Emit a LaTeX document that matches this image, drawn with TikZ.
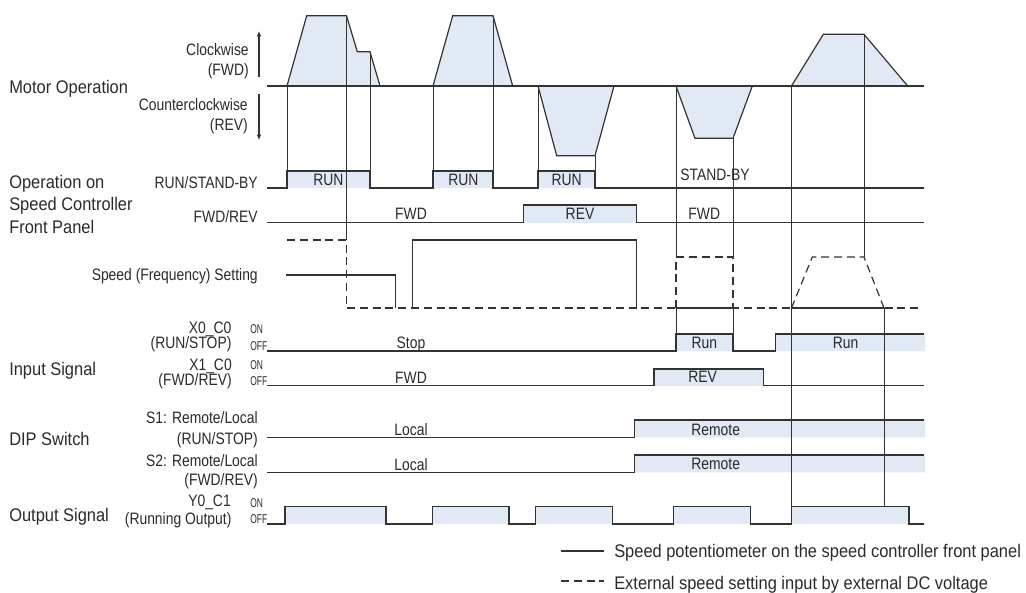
\documentclass[tikz,border=0pt]{standalone}
\usepackage{fontspec}
\setmainfont{Liberation Sans}[FakeStretch=0.9]
\newfontfamily\lbfont{Liberation Sans}[FakeStretch=0.84]
\newfontfamily\swfont{Liberation Sans}[FakeStretch=0.66]
\usetikzlibrary{arrows.meta}
\definecolor{ink}{HTML}{333333}
\definecolor{txt}{HTML}{2A2A2A}
\definecolor{blu}{HTML}{E1E9F5}
\tikzset{
  sig/.style={draw=ink,line width=.9pt},
  vl/.style={draw=ink,line width=.7pt},
  dsh/.style={draw=ink,line width=.9pt,dash pattern=on 6pt off 3.6pt},
  axs/.style={draw=ink,line width=2.2pt},
  prof/.style={fill=blu,draw=ink,line width=.9pt},
  ar/.style={-{Latex[length=4pt,width=3.6pt]},draw=ink,line width=.8pt},
  % text: group names, row names, on/off marks
  grp/.style={font=\fontsize{13.7}{16}\selectfont,text=txt,inner sep=0pt},
  lb/.style={font=\lbfont\fontsize{12.4}{14}\selectfont,text=txt,inner sep=0pt},
  sw/.style={font=\swfont\fontsize{9.6}{10}\selectfont,text=txt,inner sep=0pt},
}
\begin{document}
\begin{tikzpicture}[x=0.75pt,y=-0.75pt]
\useasboundingbox (0,0) rectangle (1026,593);
% speed profiles of the motor
\path[prof] (287,86) -- (306.7,15.7) -- (346.5,15.7) -- (357.3,51.7) -- (370,51.7) -- (380,86) -- cycle;
\path[prof] (433,86) -- (452.7,15.7) -- (493,15.7) -- (512.7,86) -- cycle;
\path[prof] (538,86) -- (556.7,155.7) -- (595,155.7) -- (614,86) -- cycle;
\path[prof] (676,86) -- (695,138.3) -- (733,138.3) -- (752.3,86) -- cycle;
\path[prof] (791.5,86) -- (823.3,34.3) -- (864,34.3) -- (907.7,86) -- cycle;
% high states
\fill[blu] (287,171) rectangle (370,188) (433,171) rectangle (493,188)
  (538,171) rectangle (595,188);
\fill[blu] (523.3,205) rectangle (636.7,222.7);
\fill[blu] (676,334) rectangle (733,351) (775.7,334) rectangle (925,351);
\fill[blu] (654,369) rectangle (763.3,385.7);
\fill[blu] (634.3,420) rectangle (925,437.3) (634.3,455) rectangle (925,472.3);
\fill[blu] (285,506.7) rectangle (386,524) (432.3,506.7) rectangle (509,524)
  (535.7,506.7) rectangle (612.7,524) (673.3,506.7) rectangle (750.7,524)
  (791.5,506.7) rectangle (909,524);
% timing marks
\draw[vl] (287,86) -- (287,171) (346.5,15.7) -- (346.5,240) (370,51.7) -- (370,171)
  (433,86) -- (433,171) (493,15.7) -- (493,171) (538,86) -- (538,171)
  (595,155.7) -- (595,171)
  (676,86) -- (676,257) (676,308) -- (676,334)
  (733,138.3) -- (733,257) (733,308) -- (733,334)
  (791.5,86) -- (791.5,506.7) (864,34.3) -- (864,257) (884,308) -- (884,506.7);
% speed setting
\draw[sig] (286,275) -- (395.7,275) -- (395.7,308);
\draw[sig] (412.7,308) -- (412.7,240) -- (636.7,240) -- (636.7,308);
\draw[sig] (676,308) -- (733,308) (791.5,308) -- (884,308);
\draw[dsh] (287,240) -- (346.5,240) -- (346.5,308) -- (922,308);
\draw[dsh] (676,308) -- (676,257) -- (733,257) -- (733,308);
\draw[dsh] (791.5,308) -- (812.3,257) -- (864,257) -- (884,308);
% signal rows
\draw[sig] (267,188) -- (287,188) -- (287,171) -- (370,171) -- (370,188) -- (433,188)
  -- (433,171) -- (493,171) -- (493,188) -- (538,188) -- (538,171) -- (595,171)
  -- (595,188) -- (924,188);
\draw[sig] (267,222.7) -- (523.3,222.7) -- (523.3,205) -- (636.7,205) -- (636.7,222.7)
  -- (924,222.7);
\draw[sig] (267,351) -- (676,351) -- (676,334) -- (733,334) -- (733,351) -- (775.7,351)
  -- (775.7,334) -- (924,334);
\draw[sig] (267,385.7) -- (654,385.7) -- (654,369) -- (763.3,369) -- (763.3,385.7)
  -- (924,385.7);
\draw[sig] (267,437.3) -- (634.3,437.3) -- (634.3,420) -- (924,420);
\draw[sig] (267,472.3) -- (634.3,472.3) -- (634.3,455) -- (924,455);
\draw[sig] (267,524) -- (285,524) -- (285,506.7) -- (386,506.7) -- (386,524) -- (432.3,524)
  -- (432.3,506.7) -- (509,506.7) -- (509,524) -- (535.7,524) -- (535.7,506.7)
  -- (612.7,506.7) -- (612.7,524) -- (673.3,524) -- (673.3,506.7) -- (750.7,506.7)
  -- (750.7,524) -- (791.5,524) -- (791.5,506.7) -- (909,506.7) -- (909,524) -- (924,524);
\draw[axs] (267,86) -- (924,86);
% direction arrows
\coordinate (cwA) at (259,77); \coordinate (cwB) at (259,31);
\coordinate (ccwA) at (259,94); \coordinate (ccwB) at (259,140);
\draw[ar] (cwA) -- (cwB);
\draw[ar] (ccwA) -- (ccwB);
% left labels
\node[grp,anchor=base west] (motor) at (9,93.3) {Motor Operation};
\node[lb,anchor=base east] (cw) at (249,55) {Clockwise};
\node[lb,anchor=base east] (cwf) at (249,75.5) {(FWD)};
\node[lb,anchor=base east] (ccw) at (248,110) {Counterclockwise};
\node[lb,anchor=base east] (ccwr) at (248,130) {(REV)};
\node[grp,anchor=base west] (opA) at (9,188) {Operation on};
\node[grp,anchor=base west] (opB) at (9,210.5) {Speed Controller};
\node[grp,anchor=base west] (opC) at (9,233) {Front Panel};
\node[lb,anchor=base east] (rsL) at (258,188) {RUN/STAND-BY};
\node[lb,anchor=base east] (frL) at (258,222.5) {FWD/REV};
\node[lb,anchor=base east] (spL) at (258,280) {Speed (Frequency) Setting};
\node[lb,anchor=base east] (x0A) at (231.7,333.3) {X0\_C0};
\node[lb,anchor=base east] (x0B) at (231.7,348.3) {(RUN/STOP)};
\node[sw,anchor=base west] (x0on) at (250,333.3) {ON};
\node[sw,anchor=base west] (x0off) at (250,350) {OFF};
\node[grp,anchor=base west] (inL) at (9,375) {Input Signal};
\node[lb,anchor=base east] (x1A) at (232,370.7) {X1\_C0};
\node[lb,anchor=base east] (x1B) at (232,385.7) {(FWD/REV)};
\node[sw,anchor=base west] (x1on) at (250,369.3) {ON};
\node[sw,anchor=base west] (x1off) at (250,385.7) {OFF};
\node[lb,anchor=base east] (s1A) at (258,423.3) {S1: Remote/Local};
\node[lb,anchor=base east] (s1B) at (258,444) {(RUN/STOP)};
\node[grp,anchor=base west] (dipL) at (9,445.7) {DIP Switch};
\node[lb,anchor=base east] (s2A) at (258,466) {S2: Remote/Local};
\node[lb,anchor=base east] (s2B) at (258,485.7) {(FWD/REV)};
\node[lb,anchor=base east] (y0A) at (231,506.7) {Y0\_C1};
\node[lb,anchor=base east] (y0B) at (231.7,524) {(Running Output)};
\node[sw,anchor=base west] (y0on) at (250,507.7) {ON};
\node[sw,anchor=base west] (y0off) at (250,523.3) {OFF};
\node[grp,anchor=base west] (outL) at (9,521.7) {Output Signal};
% state names in the rows
\node[lb,anchor=base] (run1) at (328.3,185.7) {RUN};
\node[lb,anchor=base] (run2) at (463.3,185.7) {RUN};
\node[lb,anchor=base] (run3) at (566.7,185.7) {RUN};
\node[lb,anchor=base] (stby) at (715,180) {STAND-BY};
\node[lb,anchor=base] (fwd1) at (411,219) {FWD};
\node[lb,anchor=base] (rev1) at (580,219) {REV};
\node[lb,anchor=base] (fwd2) at (704.3,219) {FWD};
\node[lb,anchor=base] (stop) at (411,348.3) {Stop};
\node[lb,anchor=base] (runA) at (704.3,348) {Run};
\node[lb,anchor=base] (runB) at (845.7,348) {Run};
\node[lb,anchor=base] (fwd3) at (411,383.3) {FWD};
\node[lb,anchor=base] (rev2) at (702.7,382.7) {REV};
\node[lb,anchor=base] (loc1) at (411,435) {Local};
\node[lb,anchor=base] (rem1) at (715.7,435) {Remote};
\node[lb,anchor=base] (loc2) at (411,470) {Local};
\node[lb,anchor=base] (rem2) at (715.7,469.3) {Remote};
% legend
\node[grp,anchor=base west] (legA) at (614,557.5)
  {Speed potentiometer on the speed controller front panel};
\node[grp,anchor=base west] (legB) at (614,589)
  {External speed setting input by external DC voltage};
\draw[sig] (561,551) -- (604,551);
\draw[dsh] (561,581) -- (604,581);
\end{tikzpicture}
\end{document}
